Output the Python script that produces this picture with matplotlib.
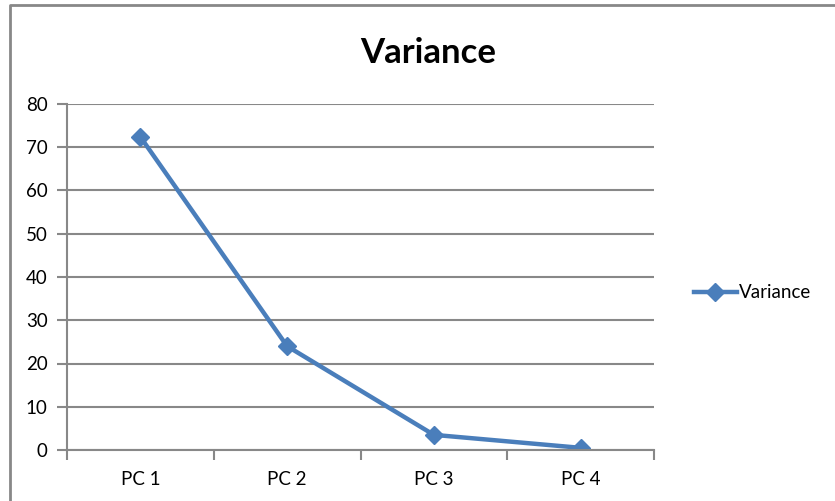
import matplotlib
matplotlib.use("Agg")
import matplotlib.pyplot as plt
from matplotlib.lines import Line2D

# datos
categories = ["PC 1", "PC 2", "PC 3", "PC 4"]
variance = [72.4, 24.0, 3.5, 0.5]
y_ticks = [0, 10, 20, 30, 40, 50, 60, 70, 80]

plt.rcParams["font.family"] = ["Lato", "DejaVu Sans"]

fig = plt.figure(figsize=(8.35, 5.01), dpi=100)

# borde exterior del grafico (solo izquierda y arriba visibles)
bx, by = 10 / 835, 1 - 5 / 501
fig.add_artist(Line2D([bx, bx, 1.0], [0.0, by, by], transform=fig.transFigure,
                      color="#888888", linewidth=2))

ax = fig.add_axes([67 / 835, 1 - 450 / 501, 587 / 835, 346 / 501])

x = list(range(len(categories)))
ax.plot(x, variance, color="#4a7ebb", linewidth=3.2, marker="D",
        markersize=9, label="Variance")

ax.set_xlim(-0.5, len(categories) - 0.5)
ax.set_ylim(0, 80)
ax.set_yticks(y_ticks)
ax.set_yticklabels([str(v) for v in y_ticks], fontsize=13.5)
ax.set_xticks(x)
ax.set_xticklabels(categories, fontsize=13.5)
ax.tick_params(axis="x", which="major", length=0, pad=15)
ax.set_xticks([i - 0.5 for i in range(len(categories) + 1)], minor=True)
ax.tick_params(axis="x", which="minor", length=7, width=1.5, color="#888888")
ax.tick_params(axis="y", length=7, width=1.5, color="#888888", pad=7)

ax.grid(axis="y", color="#888888", linewidth=1.5)
ax.set_axisbelow(True)
for s in ["top", "right"]:
    ax.spines[s].set_visible(False)
for s in ["left", "bottom"]:
    ax.spines[s].set_color("#888888")
    ax.spines[s].set_linewidth(1.5)

fig.text(428 / 835, 1 - 53 / 501, "Variance", fontsize=25, fontweight="bold",
         ha="center", va="center")

ax.legend(loc="center left", bbox_to_anchor=(1.056, 0.455), frameon=False,
          fontsize=13.5, handlelength=2.25, handletextpad=0.15, borderaxespad=0)

plt.savefig("out.png", dpi=100)
